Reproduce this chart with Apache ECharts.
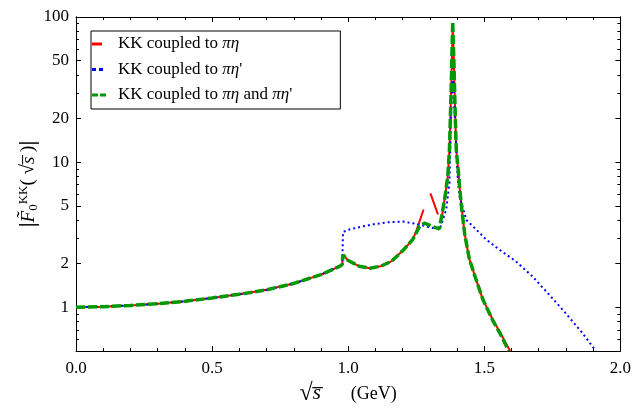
<!DOCTYPE html>
<html>
<head>
<meta charset="utf-8">
<script src="https://cdn.jsdelivr.net/npm/echarts@6/dist/echarts.min.js"></script>
<style>
  html, body { margin: 0; padding: 0; background: #fff; }
  #chart { width: 634px; height: 411px; }
</style>
</head>
<body>
<div id="chart"></div>
<script>
// KK coupled to pi eta and pi eta' (green dashed)
const xBoth = [0, 0.1, 0.2, 0.3, 0.4, 0.5, 0.6, 0.7, 0.8, 0.9, 0.97, 0.978, 0.981, 1.0, 1.04, 1.08, 1.12, 1.16, 1.2, 1.237, 1.262, 1.28, 1.31, 1.335, 1.354, 1.366, 1.372, 1.378, 1.384, 1.389, 1.393, 1.397, 1.405, 1.41, 1.418, 1.428, 1.445, 1.47, 1.495, 1.53, 1.56, 1.59];
const yBoth = [1.0, 1.01, 1.03, 1.06, 1.1, 1.16, 1.23, 1.32, 1.46, 1.68, 1.92, 1.97, 2.3, 2.1, 1.92, 1.86, 1.92, 2.08, 2.45, 2.93, 3.6, 3.8, 3.6, 3.47, 5.5, 8, 12.2, 30, 93, 45, 22, 12.2, 8.5, 6.5, 4.6, 3.2, 2.15, 1.55, 1.13, 0.82, 0.65, 0.5];
// KK coupled to pi eta (red solid)
const xEta = [0, 0.1, 0.2, 0.3, 0.4, 0.5, 0.6, 0.7, 0.8, 0.9, 0.97, 0.978, 0.981, 1.0, 1.04, 1.08, 1.12, 1.16, 1.2, 1.237, 1.25, 1.277, 1.29, 1.302, 1.33, 1.337, 1.345, 1.354, 1.366, 1.372, 1.378, 1.384, 1.389, 1.393, 1.397, 1.405, 1.41, 1.418, 1.428, 1.445, 1.47, 1.495, 1.53, 1.56, 1.595];
const yEta = [1.0, 1.01, 1.03, 1.06, 1.1, 1.16, 1.23, 1.32, 1.46, 1.68, 1.92, 1.97, 2.3, 2.1, 1.92, 1.86, 1.92, 2.08, 2.45, 2.93, 3.35, 4.72, null, 6.1, 4.36, null, 4.3, 5.5, 8, 12.2, 30, 85, 45, 22, 12.2, 8.5, 6.5, 4.6, 3.2, 2.15, 1.55, 1.13, 0.83, 0.66, 0.5];
// KK coupled to pi eta' (blue dotted)
const xEtaP = [0, 0.1, 0.2, 0.3, 0.4, 0.5, 0.6, 0.7, 0.8, 0.9, 0.97, 0.978, 0.981, 1.0, 1.05, 1.1, 1.15, 1.2, 1.262, 1.3, 1.336, 1.36, 1.372, 1.377, 1.384, 1.39, 1.397, 1.403, 1.409, 1.434, 1.47, 1.507, 1.555, 1.615, 1.676, 1.737, 1.797, 1.859, 1.91];
const yEtaP = [1.0, 1.01, 1.03, 1.06, 1.1, 1.16, 1.23, 1.32, 1.46, 1.68, 1.92, 1.97, 3.3, 3.42, 3.6, 3.75, 3.86, 3.9, 3.72, 3.55, 3.44, 4.7, 7.2, 18, 45, 25, 12, 7.5, 5.8, 4.0, 3.44, 2.93, 2.5, 2.08, 1.64, 1.23, 0.92, 0.67, 0.5];

const yMajorTicks = [1, 2, 5, 10, 20, 50, 100];
const yMinorTicks = [0.6, 0.7, 0.8, 0.9, 3, 4, 6, 7, 8, 9, 30, 40, 60, 70, 80, 90];
const yMin = 0.5, yMax = 100;

const FONT = 'Liberation Serif';
const lg = v => Math.log10(v);
const pairs = (xs, ys) => xs.map((x, i) => [x, ys[i] == null ? '-' : lg(ys[i])]);

const chart = echarts.init(document.getElementById('chart'));

const xBase = {
  type: 'value', min: 0, max: 2, interval: 0.5,
  axisLine: { show: true, onZero: false, lineStyle: { color: '#000', width: 1 } },
  axisTick: { show: true, inside: true, length: 5, lineStyle: { color: '#000' } },
  minorTick: { show: true, splitNumber: 5, length: 3, lineStyle: { color: '#000' } },
  splitLine: { show: false }
};
const yBase = {
  type: 'value', min: lg(yMin), max: lg(yMax),
  axisLine: { show: true, onZero: false, lineStyle: { color: '#000', width: 1 } },
  splitLine: { show: false }
};
function yAxisOf(pos, ticks, len, labels) {
  return Object.assign({}, yBase, {
    position: pos,
    axisTick: { show: true, inside: true, length: len, customValues: ticks.map(lg), lineStyle: { color: '#000' } },
    axisLabel: labels ? {
      show: true, customValues: ticks.map(lg), margin: 7,
      fontFamily: FONT, fontSize: 17, color: '#000',
      formatter: v => String(Math.round(Math.pow(10, v)))
    } : { show: false }
  });
}

const yAxes = [
  yAxisOf('left', yMajorTicks, 5, true),
  yAxisOf('left', yMinorTicks, 3, false),
  yAxisOf('right', yMajorTicks, 5, false),
  yAxisOf('right', yMinorTicks, 3, false)
];
yAxes[0].name = '{b||}{i|F\u0303}{sub|0}{sup|KK}{n|( \u221a}{i|s\u0305}{n| )}{b||}';
yAxes[0].nameLocation = 'middle';
yAxes[0].nameRotate = 90;
yAxes[0].nameGap = 36;
yAxes[0].nameMoveOverlap = false;
yAxes[0].nameTextStyle = {
  fontFamily: FONT, fontSize: 19, color: '#000',
  rich: {
    b: { fontFamily: FONT, fontSize: 22, fontWeight: 'bold', color: '#000' },
    n: { fontFamily: FONT, fontSize: 19, color: '#000' },
    i: { fontFamily: FONT, fontSize: 19, fontStyle: 'italic', color: '#000' },
    sub: { fontFamily: FONT, fontSize: 13, color: '#000', verticalAlign: 'bottom', padding: [8, 0, 0, 0] },
    sup: { fontFamily: FONT, fontSize: 13, color: '#000', verticalAlign: 'top', padding: [0, 0, 10, 0] }
  }
};

const legendNames = ['KK coupled to \u03c0\u03b7', "KK coupled to \u03c0\u03b7'", "KK coupled to \u03c0\u03b7 and \u03c0\u03b7'"];
const legendIcons = [
  'path://M0,0H10V3H0ZM14,0L14,3L13.99,3Z',
  'path://M0,0H4V3H0ZM7,0H11V3H7ZM14,0L14,3L13.99,3Z',
  'path://M0,0H6V3H0ZM8,0H14V3H8Z'
];

chart.setOption({
  animation: false,
  backgroundColor: '#fff',
  grid: { left: 76, right: 13, top: 17, bottom: 60, containLabel: false },
  legend: {
    orient: 'vertical', left: 91, top: 31,
    data: legendNames.map((n, i) => ({ name: n, icon: legendIcons[i] })),
    borderColor: '#000', borderWidth: 1, borderRadius: 0,
    padding: [4, 48, 5, 1],
    itemGap: 7.5, itemWidth: 14, itemHeight: 14,
    symbolKeepAspect: true,
    textStyle: {
      fontFamily: FONT, fontSize: 17, color: '#000', lineHeight: 18,
      rich: {
        sp: { width: 7 },
        t: { fontFamily: FONT, fontSize: 17, color: '#000' },
        i: { fontFamily: FONT, fontSize: 17, color: '#000', fontStyle: 'italic' }
      }
    },
    formatter: name => '{sp|}{t|' + name.replace(/\u03c0\u03b7/g, '}{i|\u03c0\u03b7}{t|') + '}'
  },
  xAxis: [
    Object.assign({}, xBase, {
      position: 'bottom',
      axisLabel: { show: true, margin: 9, fontFamily: FONT, fontSize: 17, color: '#000', formatter: v => v.toFixed(1) },
      name: '{r|\u221a}{i|s\u0305}{sp|}{n|(GeV)}',
      nameLocation: 'middle', nameGap: 19,
      nameTextStyle: {
        rich: {
          r: { fontFamily: FONT, fontSize: 24, color: '#000' },
          n: { fontFamily: FONT, fontSize: 18, color: '#000' },
          i: { fontFamily: FONT, fontSize: 21, fontStyle: 'italic', color: '#000' },
          sp: { width: 30 }
        }
      }
    }),
    Object.assign({}, xBase, { position: 'top', axisLabel: { show: false } })
  ],
  yAxis: yAxes,
  series: [
    {
      name: legendNames[0], type: 'line', data: pairs(xEta, yEta),
      showSymbol: false, symbol: 'none', connectNulls: false, clip: true,
      color: '#ff0000', lineStyle: { color: '#ff0000', width: 2, type: 'solid' }, z: 2
    },
    {
      name: legendNames[1], type: 'line', data: pairs(xEtaP, yEtaP),
      showSymbol: false, symbol: 'none', clip: true,
      color: '#0000ff', lineStyle: { color: '#0000ff', width: 2, type: [2, 3] }, z: 3
    },
    {
      name: legendNames[2], type: 'line', data: pairs(xBoth, yBoth),
      showSymbol: false, symbol: 'none', clip: true,
      color: '#009900', lineStyle: { color: '#009900', width: 3.5, type: [9, 3] }, z: 4
    }
  ]
});
</script>
</body>
</html>
